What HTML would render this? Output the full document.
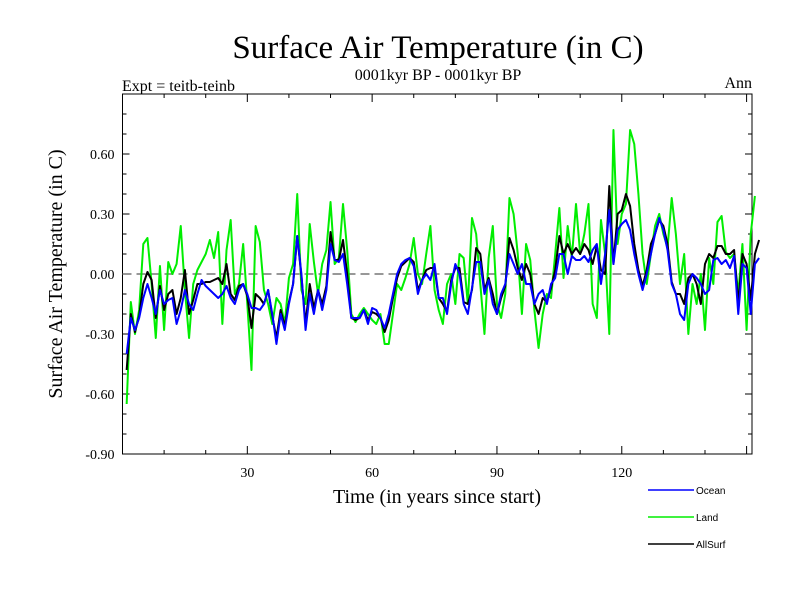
<!DOCTYPE html>
<html><head><meta charset="utf-8"><style>
body{margin:0;background:#fff;width:800px;height:600px;overflow:hidden}
svg text{font-family:"Liberation Serif",serif;fill:#000}
svg text.sans{font-family:"Liberation Sans",sans-serif}
</style></head><body>
<svg width="800" height="600">
<text x="438" y="58" font-size="33" text-anchor="middle">Surface Air Temperature (in C)</text>
<text x="438" y="80" font-size="16" text-anchor="middle">0001kyr BP - 0001kyr BP</text>
<text x="122" y="91" font-size="16">Expt = teitb-teinb</text>
<text x="752" y="88" font-size="16" text-anchor="end">Ann</text>
<text transform="translate(62,274) rotate(-90)" font-size="20" text-anchor="middle">Surface Air Temperature (in C)</text>
<text x="437" y="503" font-size="20" text-anchor="middle">Time (in years since start)</text>
<g id="axes"></g>
<g id="series"></g>
<g>
<line x1="648" y1="490" x2="694" y2="490" stroke="#0000ff" stroke-width="1.5"/><text class="sans" style="font-family:'Liberation Sans',sans-serif" x="696" y="494" font-size="10">Ocean</text>
<line x1="648" y1="517" x2="694" y2="517" stroke="#00ee00" stroke-width="1.5"/><text class="sans" style="font-family:'Liberation Sans',sans-serif" x="696" y="521" font-size="10">Land</text>
<line x1="648" y1="544" x2="694" y2="544" stroke="#000" stroke-width="1.5"/><text class="sans" style="font-family:'Liberation Sans',sans-serif" x="696" y="548" font-size="10">AllSurf</text>
</g>
</svg>
<script>
const yTicks=[-0.9,-0.6,-0.3,0,0.3,0.6];
const yTickLabels=["-0.90","-0.60","-0.30","0.00","0.30","0.60"];
const xTicks=[30,60,90,120];
const ocean=[-0.40,-0.22,-0.28,-0.22,-0.12,-0.05,-0.12,-0.20,-0.08,-0.15,-0.13,-0.12,-0.25,-0.18,-0.08,-0.15,-0.18,-0.10,-0.03,-0.06,-0.08,-0.10,-0.12,-0.10,-0.06,-0.12,-0.15,-0.08,-0.05,-0.10,-0.17,-0.17,-0.18,-0.15,-0.08,-0.20,-0.35,-0.20,-0.28,-0.15,-0.05,0.19,0.00,-0.28,-0.10,-0.20,-0.08,-0.18,-0.08,0.15,0.07,0.06,0.10,-0.05,-0.22,-0.22,-0.22,-0.18,-0.25,-0.17,-0.18,-0.22,-0.27,-0.20,-0.10,0.00,0.05,0.07,0.08,0.04,-0.10,-0.03,0.00,-0.03,0.05,-0.12,-0.12,-0.20,-0.05,0.05,0.00,-0.15,-0.20,-0.07,0.06,0.06,-0.10,-0.03,-0.15,-0.20,-0.10,-0.05,0.10,0.05,0.00,0.05,-0.05,-0.05,-0.15,-0.10,-0.08,-0.15,-0.05,-0.02,0.10,0.10,0.00,0.09,0.07,0.07,0.09,0.06,0.12,0.15,-0.05,0.10,0.32,0.05,0.22,0.25,0.27,0.22,0.10,0.00,-0.08,0.00,0.10,0.20,0.28,0.22,0.12,-0.05,-0.10,-0.20,-0.23,-0.05,0.00,-0.02,-0.05,-0.10,-0.08,0.07,0.08,0.05,0.07,0.03,0.09,-0.20,0.05,0.03,-0.20,0.05,0.08];
const land=[-0.65,-0.14,-0.30,-0.18,0.15,0.18,-0.05,-0.32,0.04,-0.28,0.06,0.00,0.05,0.24,-0.08,-0.32,-0.05,0.02,0.06,0.10,0.17,0.08,0.21,-0.25,0.12,0.27,-0.10,-0.05,0.15,-0.15,-0.48,0.24,0.16,-0.08,-0.15,-0.25,-0.12,-0.15,-0.25,-0.02,0.05,0.40,-0.08,-0.15,0.25,0.06,-0.10,0.05,0.12,0.36,0.05,0.08,0.35,0.12,-0.20,-0.24,-0.20,-0.17,-0.20,-0.23,-0.25,-0.20,-0.35,-0.35,-0.20,-0.05,-0.08,-0.02,0.05,0.18,0.00,-0.05,0.10,0.24,-0.08,-0.18,-0.25,-0.05,0.00,-0.15,0.10,0.08,-0.15,0.28,0.20,-0.05,-0.30,0.08,0.24,-0.15,-0.22,-0.10,0.38,0.30,0.10,-0.20,0.15,0.07,-0.18,-0.37,-0.20,-0.10,-0.12,0.10,0.33,-0.02,0.24,0.08,0.35,0.10,0.20,0.35,-0.15,-0.22,0.27,0.10,-0.30,0.72,0.15,0.30,0.35,0.72,0.65,0.40,0.10,-0.05,0.10,0.24,0.30,0.20,0.13,0.38,0.20,-0.05,0.10,-0.30,-0.05,-0.15,0.00,-0.28,0.08,-0.05,0.26,0.29,0.11,0.08,0.10,-0.10,0.15,-0.28,0.20,0.39];
const allsurf=[-0.48,-0.20,-0.29,-0.21,-0.05,0.01,-0.03,-0.22,-0.06,-0.18,-0.10,-0.08,-0.20,-0.12,0.02,-0.20,-0.13,-0.05,-0.05,-0.04,-0.04,-0.03,-0.02,-0.05,0.05,-0.10,-0.13,-0.06,-0.05,-0.11,-0.27,-0.10,-0.12,-0.15,-0.08,-0.21,-0.32,-0.18,-0.26,-0.14,-0.05,0.19,-0.01,-0.25,-0.05,-0.17,-0.08,-0.15,-0.06,0.21,0.07,0.07,0.17,0.00,-0.22,-0.23,-0.22,-0.18,-0.23,-0.19,-0.20,-0.22,-0.29,-0.23,-0.12,-0.02,0.04,0.06,0.08,0.06,-0.08,-0.03,0.02,0.03,0.03,-0.12,-0.15,-0.19,-0.03,0.03,0.03,-0.14,-0.15,-0.08,0.13,0.10,-0.08,-0.02,-0.10,-0.20,-0.12,-0.06,0.18,0.12,0.03,-0.03,0.05,0.00,-0.15,-0.20,-0.12,-0.14,-0.07,0.02,0.19,0.10,0.15,0.10,0.13,0.10,0.15,0.12,0.05,0.14,0.02,0.00,0.44,0.05,0.30,0.32,0.40,0.34,0.15,0.02,-0.06,0.02,0.15,0.20,0.27,0.24,0.15,-0.04,-0.10,-0.10,-0.15,-0.02,0.00,-0.05,-0.15,0.05,0.10,0.08,0.14,0.14,0.10,0.10,0.12,-0.15,0.10,0.05,-0.13,0.10,0.17];
const X0=122.5,X1=752,Y0=94,Y1=454,XMAX=151.3;
const sx=v=>X0+(v/XMAX)*(X1-X0);
const sy=v=>Y1-(v+0.9)/1.8*(Y1-Y0);
const NS="http://www.w3.org/2000/svg";
const ax=document.getElementById('axes');
function mk(t,a,p){const e=document.createElementNS(NS,t);for(const k in a)e.setAttribute(k,a[k]);p.appendChild(e);return e;}
const frame=mk('rect',{x:X0,y:Y0,width:X1-X0,height:Y1-Y0,fill:'none',stroke:'#000','stroke-width':1},ax);


for(let v=-0.9;v<=0.901;v+=0.1){const y=sy(v);const major=Math.abs(Math.round(v*10)%3)===0;const L=major?7:4;
 mk('line',{x1:X0,y1:y,x2:X0+L,y2:y,stroke:'#000'},ax);mk('line',{x1:X1,y1:y,x2:X1-L,y2:y,stroke:'#000'},ax);}
yTicks.forEach((v,i)=>{const t=mk('text',{x:X0-8,y:sy(v)+5,'font-size':14,'text-anchor':'end'},ax);t.textContent=yTickLabels[i];
 
 });
for(let v=10;v<XMAX;v+=10){const x=sx(v);const L=v%30===0?8:4;mk('line',{x1:x,y1:Y1,x2:x,y2:Y1-L,stroke:'#000'},ax);mk('line',{x1:x,y1:Y0,x2:x,y2:Y0+L,stroke:'#000'},ax);}
xTicks.forEach(v=>{const t=mk('text',{x:sx(v),y:Y1+23,'font-size':14,'text-anchor':'middle'},ax);t.textContent=v;
 
 });
const zl=mk('line',{x1:X0,y1:sy(0),x2:X1,y2:sy(0),stroke:'#777','stroke-width':1.5,'stroke-dasharray':'9,5'},ax);


const sg=document.getElementById('series');
function line(arr,col,name){const pts=arr.map((v,i)=>sx(i+1)+','+sy(v)).join(' ');
 const p=mk('polyline',{points:pts,fill:'none',stroke:col,'stroke-width':2,'stroke-linejoin':'round'},sg);
 
 }
line(land,'#00ee00','land-line');
line(allsurf,'#000000','allsurf-line');
line(ocean,'#0000ff','ocean-line');
</script>
</body></html>
